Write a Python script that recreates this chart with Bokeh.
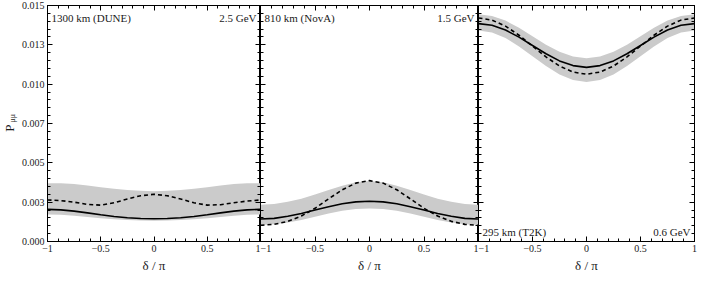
import numpy as np
from bokeh.plotting import figure
from bokeh.models import LinearAxis, FixedTicker, Label, Range1d
from bokeh.layouts import row
from bokeh.embed import file_html
from bokeh.resources import INLINE

# ---------------- data ----------------
delta = [-1.0, -0.875, -0.75, -0.625, -0.5, -0.375, -0.25, -0.125, 0.0,
         0.125, 0.25, 0.375, 0.5, 0.625, 0.75, 0.875, 1.0]

dune_solid = [0.00204, 0.00201, 0.00193, 0.00182, 0.00170, 0.00159, 0.00151, 0.00146, 0.00145,
              0.00146, 0.00151, 0.00159, 0.00170, 0.00182, 0.00193, 0.00201, 0.00204]
dune_dashed = [0.00264, 0.00260, 0.00250, 0.00236, 0.00231, 0.00246, 0.00270, 0.00291, 0.00300,
               0.00291, 0.00270, 0.00246, 0.00231, 0.00234, 0.00246, 0.00257, 0.00264]
dune_upper = [0.00371, 0.00370, 0.00365, 0.00356, 0.00345, 0.00335, 0.00327, 0.00322, 0.00320,
              0.00322, 0.00327, 0.00335, 0.00345, 0.00356, 0.00365, 0.00370, 0.00371]
dune_lower = [0.00172, 0.00170, 0.00164, 0.00156, 0.00148, 0.00141, 0.00136, 0.00133, 0.00132,
              0.00133, 0.00136, 0.00141, 0.00148, 0.00156, 0.00164, 0.00170, 0.00172]

nova_solid = [0.00143, 0.00147, 0.00160, 0.00178, 0.00200, 0.00221, 0.00240, 0.00252, 0.00256,
              0.00252, 0.00240, 0.00221, 0.00200, 0.00178, 0.00160, 0.00147, 0.00143]
nova_dashed = [0.00103, 0.00109, 0.00128, 0.00162, 0.00211, 0.00271, 0.00329, 0.00371, 0.00387,
               0.00371, 0.00329, 0.00271, 0.00211, 0.00162, 0.00128, 0.00109, 0.00103]
nova_upper = [0.00234, 0.00238, 0.00252, 0.00272, 0.00298, 0.00327, 0.00355, 0.00377, 0.00385,
              0.00377, 0.00355, 0.00327, 0.00298, 0.00272, 0.00252, 0.00238, 0.00234]
nova_lower = [0.00105, 0.00109, 0.00120, 0.00137, 0.00158, 0.00178, 0.00195, 0.00206, 0.00210,
              0.00206, 0.00195, 0.00178, 0.00158, 0.00137, 0.00120, 0.00109, 0.00105]

t2k_solid = [0.01385, 0.01374, 0.01344, 0.01299, 0.01246, 0.01193, 0.01148, 0.01118, 0.01107,
             0.01118, 0.01148, 0.01193, 0.01246, 0.01299, 0.01344, 0.01374, 0.01385]
t2k_dashed = [0.01421, 0.01407, 0.01369, 0.01311, 0.01242, 0.01173, 0.01115, 0.01077, 0.01063,
              0.01077, 0.01115, 0.01173, 0.01242, 0.01311, 0.01369, 0.01407, 0.01421]
t2k_upper = [0.01445, 0.01434, 0.01404, 0.01359, 0.01305, 0.01251, 0.01206, 0.01176, 0.01165,
             0.01176, 0.01206, 0.01251, 0.01305, 0.01359, 0.01404, 0.01434, 0.01445]
t2k_lower = [0.01341, 0.01329, 0.01293, 0.01240, 0.01178, 0.01115, 0.01062, 0.01026, 0.01014,
             0.01026, 0.01062, 0.01115, 0.01178, 0.01240, 0.01293, 0.01329, 0.01341]

y_ticks = [0.0, 0.0025, 0.005, 0.0075, 0.01, 0.0125, 0.015]
y_tick_labels = ["0.000", "0.003", "0.005", "0.007", "0.010", "0.013", "0.015"]
y_minor = [i * 0.0005 for i in range(31)]
x_ticks = [-1.0, -0.5, 0.0, 0.5, 1.0]
x_tick_labels = ["\u22121", "\u22120.5", "0", "0.5", "1"]
x_minor = [round(-1 + 0.1 * i, 2) for i in range(21)]

y_title_main = "P"
y_title_sub = "\u03bc\u03bc"

panels = [
    dict(solid=dune_solid, dashed=dune_dashed, upper=dune_upper, lower=dune_lower,
         left_text="1300 km (DUNE)", right_text="2.5 GeV", top=True),
    dict(solid=nova_solid, dashed=nova_dashed, upper=nova_upper, lower=nova_lower,
         left_text="810 km (NovA)", right_text="1.5 GeV", top=True),
    dict(solid=t2k_solid, dashed=t2k_dashed, upper=t2k_upper, lower=t2k_lower,
         left_text="295 km (T2K)", right_text="0.6 GeV", top=False),
]

FONT = "Liberation Serif"
TXT = "#1a1a1a"
WIDTHS = [242, 218, 220]
AUX_W = 18
HEIGHT = 278
TOP_B = 5


def style_axis(ax, ticks, minor, labels, show_labels):
    ax.ticker = FixedTicker(ticks=ticks, minor_ticks=minor)
    ax.axis_line_color = "black"
    ax.axis_line_width = 1
    ax.major_tick_in = 5
    ax.major_tick_out = 0
    ax.minor_tick_in = 3
    ax.minor_tick_out = 0
    ax.major_tick_line_color = "black"
    ax.minor_tick_line_color = "black"
    ax.major_label_text_font = FONT
    ax.major_label_text_color = TXT
    if show_labels:
        ax.major_label_overrides = {t: l for t, l in zip(ticks, labels)}
        ax.major_label_text_font_size = "10px"
        ax.major_label_standoff = 3
    else:
        ax.major_label_overrides = {t: "" for t in ticks}
        ax.major_label_text_font_size = "0px"
        ax.major_label_standoff = 0


figs = []
for i, pn in enumerate(panels):
    first = i == 0
    last = i == len(panels) - 1
    p = figure(width=WIDTHS[i], height=HEIGHT,
               x_range=Range1d(-1, 1), y_range=Range1d(0, 0.015),
               output_backend="svg", toolbar_location=None,
               x_axis_location=None, y_axis_location=None,
               min_border_left=23 if first else 0,
               min_border_right=4 if last else 0,
               min_border_top=TOP_B, min_border_bottom=0)
    p.grid.visible = False
    p.outline_line_color = "black"
    p.background_fill_color = "white"
    p.border_fill_color = "white"

    bottom = LinearAxis()
    style_axis(bottom, x_ticks, x_minor, x_tick_labels, True)
    bottom.axis_label = "\u03b4 / \u03c0"
    bottom.axis_label_text_font = FONT
    bottom.axis_label_text_font_style = "normal"
    bottom.axis_label_text_font_size = "13px"
    bottom.axis_label_text_color = TXT
    bottom.axis_label_standoff = 3
    p.add_layout(bottom, "below")

    top = LinearAxis()
    style_axis(top, x_ticks, x_minor, x_tick_labels, False)
    p.add_layout(top, "above")

    left = LinearAxis()
    style_axis(left, y_ticks, y_minor, y_tick_labels, first)
    p.add_layout(left, "left")

    right = LinearAxis()
    style_axis(right, y_ticks, y_minor, y_tick_labels, False)
    p.add_layout(right, "right")

    p.varea(x=delta, y1=pn["lower"], y2=pn["upper"], fill_color="#cbcbcb", fill_alpha=1.0)
    p.line(x=delta, y=pn["solid"], line_color="black", line_width=1.6)
    p.line(x=delta, y=pn["dashed"], line_color="black", line_width=1.6, line_dash="4 3")

    if pn["top"]:
        p.add_layout(Label(x=-1, y=0.015, x_offset=4, y_offset=-6, text=pn["left_text"],
                           text_font=FONT, text_font_size="11px", text_baseline="top",
                           text_align="left", text_color=TXT))
        p.add_layout(Label(x=1, y=0.015, x_offset=-4, y_offset=-6, text=pn["right_text"],
                           text_font=FONT, text_font_size="11px", text_baseline="top",
                           text_align="right", text_color=TXT))
    else:
        p.add_layout(Label(x=-1, y=0, x_offset=4, y_offset=4, text=pn["left_text"],
                           text_font=FONT, text_font_size="11px", text_baseline="bottom",
                           text_align="left", text_color=TXT))
        p.add_layout(Label(x=1, y=0, x_offset=-4, y_offset=4, text=pn["right_text"],
                           text_font=FONT, text_font_size="11px", text_baseline="bottom",
                           text_align="right", text_color=TXT))
    figs.append(p)

# narrow strip at the left that carries the y-axis title P_mu-mu
aux = figure(width=AUX_W, height=HEIGHT, x_range=Range1d(0, AUX_W), y_range=Range1d(0, 0.015),
             output_backend="svg", toolbar_location=None,
             x_axis_location=None, y_axis_location=None,
             min_border_left=0, min_border_right=0, min_border_top=TOP_B,
             min_border_bottom=37)
aux.grid.visible = False
aux.outline_line_color = None
aux.background_fill_color = "white"
aux.border_fill_color = "white"
aux.add_layout(Label(x=9, y=0.0072, text=y_title_main, angle=np.pi / 2, text_font=FONT,
                     text_font_size="13px", text_align="center", text_baseline="middle",
                     text_color=TXT))
aux.add_layout(Label(x=12, y=0.0072, y_offset=10, text=y_title_sub, angle=np.pi / 2,
                     text_font=FONT, text_font_size="8px", text_align="center",
                     text_baseline="middle", text_color=TXT))

layout = row(aux, *figs, spacing=0)
open("out.html", "w").write(file_html(layout, INLINE))
